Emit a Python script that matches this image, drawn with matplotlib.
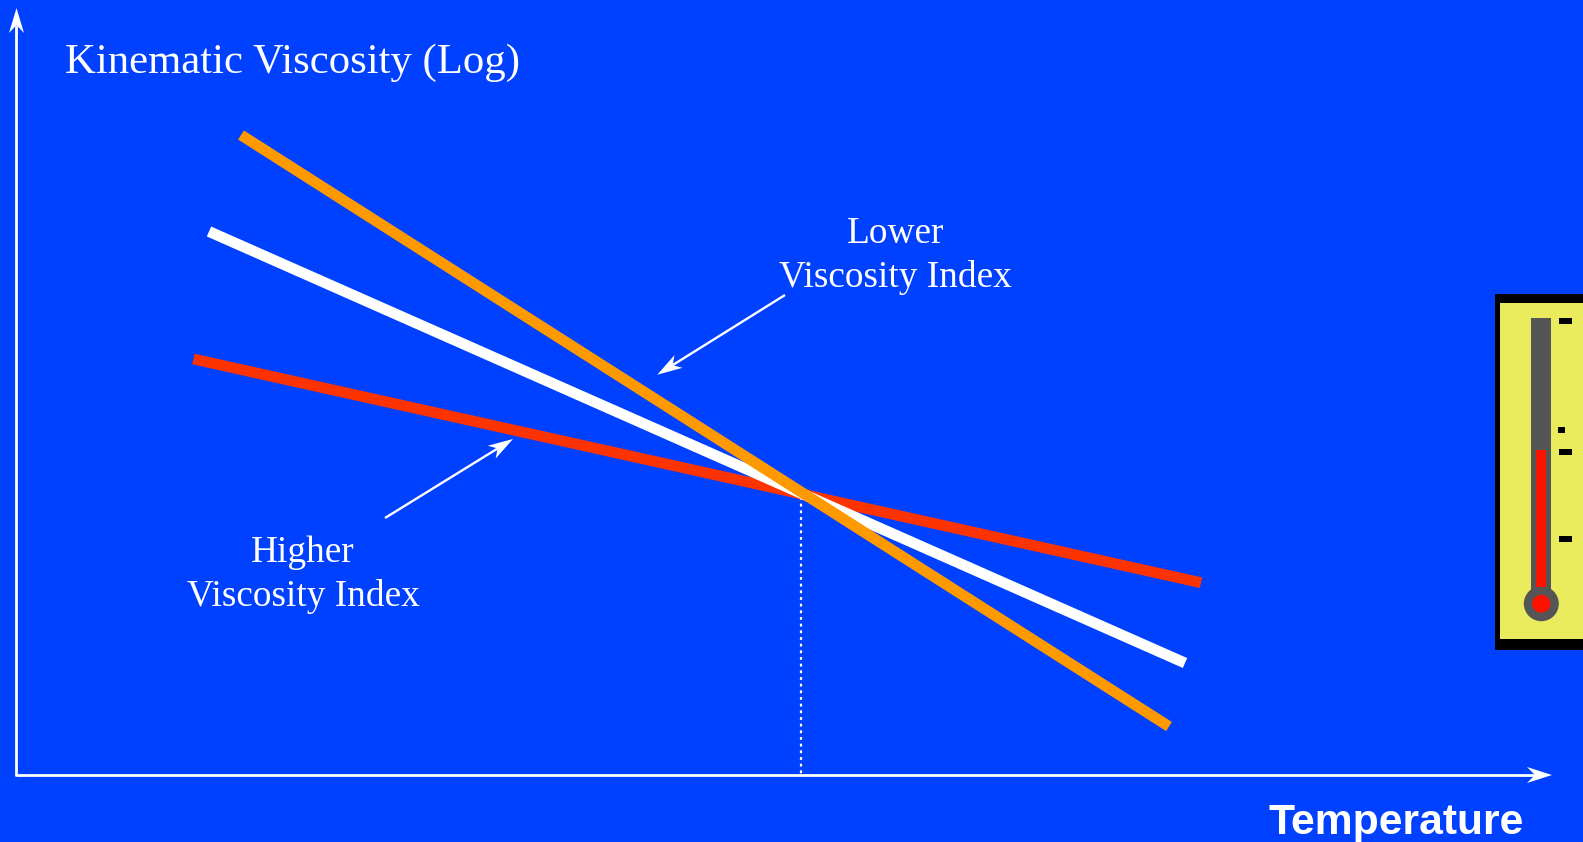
import matplotlib
matplotlib.use('Agg')
import matplotlib.pyplot as plt
from matplotlib.patches import Polygon, Rectangle, Circle
import numpy as np

# line end points, picture pixels
orange_x = [241, 1169]
orange_y = [135, 726.5]
white_x = [209, 1185]
white_y = [231.5, 663]
red_x = [193.5, 1201]
red_y = [359, 582.7]
cross_x = [801, 801]
cross_y = [497, 775]

temp_ticks = [321, 452, 539]
temp_level = 450

BLUE = '#0040ff'
ORANGE = '#ff9900'
RED = '#ff3300'
GREY = '#555555'
YELLOW = '#ebeb5e'


def arrow(ax, x0, y0, x1, y1, lw, head_len, head_w, notch):
    # line with a notched arrow head
    d = np.array([x1 - x0, y1 - y0], dtype=float)
    d /= np.hypot(*d)
    n = np.array([-d[1], d[0]])
    tip = np.array([x1, y1])
    back = tip - d * head_len
    ax.plot([x0, back[0] + d[0] * notch], [y0, back[1] + d[1] * notch], color='white',
            lw=lw, solid_capstyle='butt', zorder=5)
    pts = [tip, back + n * head_w / 2, back + d * notch, back - n * head_w / 2]
    ax.add_patch(Polygon(pts, closed=True, fc='white', ec='none', zorder=6))


fig = plt.figure(figsize=(15.83, 8.42), dpi=100, facecolor=BLUE)
ax = fig.add_axes([0, 0, 1, 1])
ax.set_xlim(0, 1583)
ax.set_ylim(842, 0)
ax.axis('off')

arrow(ax, 16.5, 776, 16.5, 8, 2.0, 25, 15, 8)
arrow(ax, 16, 775, 1552, 775, 2.0, 25, 16, 8)
arrow(ax, 785, 295, 657.3, 374.7, 1.7, 25, 15, 7)
arrow(ax, 385, 518, 513, 439, 1.7, 25, 15, 7)

ax.plot(cross_x, cross_y, color='white', lw=1.6, ls=(0, (1.3, 1.7)), zorder=2)
ax.plot(red_x, red_y, color=RED, lw=7.8, solid_capstyle='butt', zorder=3)
ax.plot(white_x, white_y, color='white', lw=7.8, solid_capstyle='butt', zorder=3.1)
ax.plot(orange_x, orange_y, color=ORANGE, lw=7.8, solid_capstyle='butt', zorder=3.2)

serif = dict(family='Liberation Serif', color='white', va='baseline')
ax.text(65, 73, 'Kinematic Viscosity (Log)', ha='left', fontsize=30.8, **serif)
ax.text(895.5, 243, 'Lower', ha='center', fontsize=26.8, **serif)
ax.text(895.5, 287, 'Viscosity Index', ha='center', fontsize=26.8, **serif)
ax.text(303, 562, 'Higher', ha='center', fontsize=26.8, **serif)
ax.text(303, 606, 'Viscosity Index', ha='center', fontsize=26.8, **serif)
ax.text(1269, 834, 'Temperature', ha='left', va='baseline', family='Liberation Sans',
        fontweight='bold', color='white', fontsize=30.7)

# thermometer panel
ax.add_patch(Rectangle((1495, 294), 100, 356, fc='black', ec='none', zorder=2))
ax.add_patch(Rectangle((1500, 303), 100, 336, fc=YELLOW, ec='none', zorder=2.1))
ax.add_patch(Rectangle((1531, 318), 20, 280, fc=GREY, ec='none', zorder=3))
ax.add_patch(Circle((1541.3, 603.7), 17.5, fc=GREY, ec='none', zorder=3))
ax.add_patch(Rectangle((1536, temp_level), 10, 137, fc='#ff1100', ec='none', zorder=4))
ax.add_patch(Circle((1541.3, 603.7), 9, fc='#ff1100', ec='none', zorder=4))
for t in temp_ticks:
    ax.add_patch(Rectangle((1559, t - 3), 13, 6, fc='black', ec='none', zorder=4))
ax.add_patch(Rectangle((1558, 427), 7, 6, fc='black', ec='none', zorder=4))

fig.savefig('out.png', dpi=100, facecolor=BLUE)
